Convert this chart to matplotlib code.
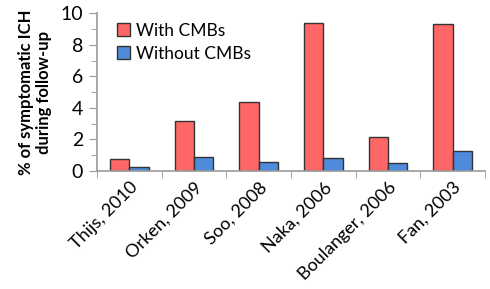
import numpy as np
import matplotlib
matplotlib.use("Agg")
import matplotlib.pyplot as plt
from matplotlib.ticker import MultipleLocator

plt.rcParams['font.family'] = ['Lato', 'DejaVu Sans']

studies = ['Thijs, 2010', 'Orken, 2009', 'Soo, 2008', 'Naka, 2006', 'Boulanger, 2006', 'Fan, 2003']
with_cmbs = [0.72, 3.16, 4.38, 9.36, 2.16, 9.3]
without_cmbs = [0.25, 0.89, 0.57, 0.79, 0.47, 1.27]

fig = plt.figure(figsize=(4.9, 2.89), dpi=100)
ax = fig.add_axes([0.198, 0.409, 0.792, 0.545])

x = np.arange(len(studies))
w = 0.3
ax.bar(x - w / 2, with_cmbs, w, color='#FF6666', edgecolor='#333333', linewidth=1, label='With CMBs')
ax.bar(x + w / 2, without_cmbs, w, color='#4F8BDB', edgecolor='#333333', linewidth=1, label='Without CMBs')

ax.set_xlim(-0.5, len(studies) - 0.5)
ax.set_ylim(0, 10)
ax.yaxis.set_major_locator(MultipleLocator(2))
ax.yaxis.set_minor_locator(MultipleLocator(1))
ax.set_xticks(x)
ax.set_xticklabels(studies, rotation=45, ha='right', rotation_mode='anchor', fontsize=13)
ax.set_xticks(np.arange(len(studies) + 1) - 0.5, minor=True)
ax.tick_params(axis='x', which='major', length=0, pad=6)
ax.tick_params(axis='x', which='minor', length=5, color='#999999', direction='out')
ax.tick_params(axis='y', which='major', length=6, color='#999999', labelsize=14, pad=4)
ax.tick_params(axis='y', which='minor', length=4, color='#999999')

for s in ['top', 'right']:
    ax.spines[s].set_visible(False)
ax.spines['left'].set_color('#999999')
ax.spines['bottom'].set_color('#999999')
ax.spines['left'].set_linewidth(1.2)
ax.spines['bottom'].set_linewidth(1.2)

ax.set_ylabel('% of symptomatic ICH\nduring follow-up', fontsize=12, fontweight='bold', labelpad=6)

leg = ax.legend(loc='upper left', bbox_to_anchor=(0.01, 1.04), frameon=False, fontsize=12.5,
                handlelength=0.8, handleheight=0.8, handletextpad=0.3, labelspacing=0.4)

fig.savefig('out.png', dpi=100)
